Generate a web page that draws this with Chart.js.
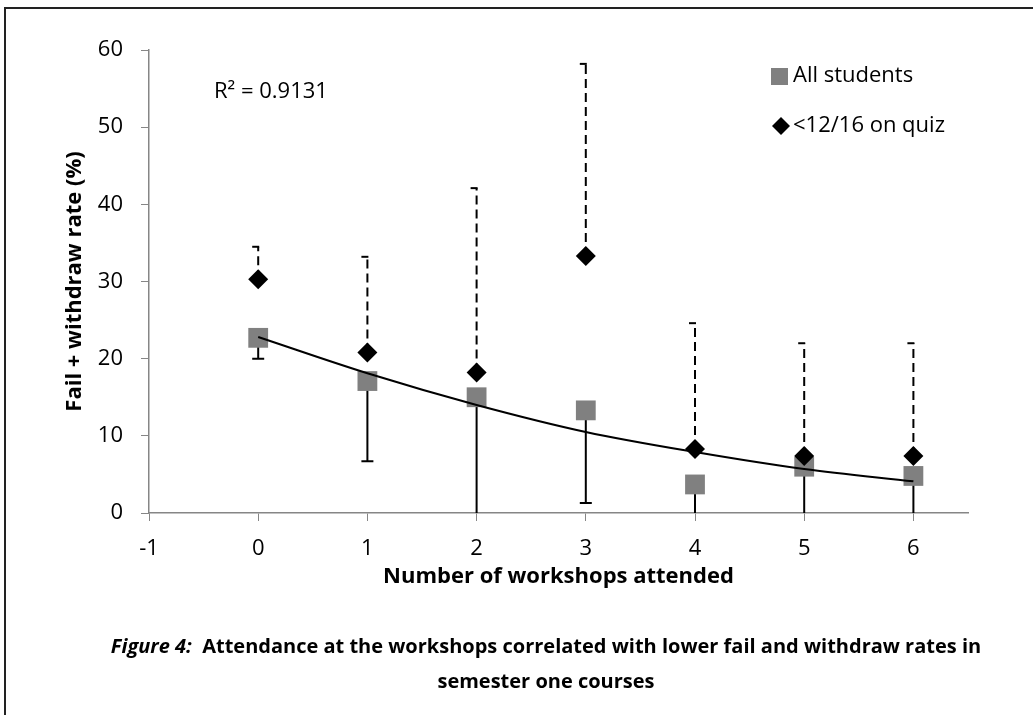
<!DOCTYPE html>
<html>
<head>
<meta charset="utf-8">
<script src="https://cdn.jsdelivr.net/npm/chart.js@4.4.1/dist/chart.umd.min.js"></script>
<style>
  html, body { margin: 0; padding: 0; background: #fff; }
  #wrap { position: relative; width: 1033px; height: 715px; overflow: hidden; font-family: "Open Sans", sans-serif; }
  #frame { position: absolute; left: 4px; top: 7px; width: 1100px; height: 800px; border: 2px solid #222; box-sizing: border-box; }
  #chart { position: absolute; left: 0; top: 0; }
  .caption { position: absolute; left: 0; top: 628px; width: 1092px; text-align: center; font-weight: bold; font-size: 20px; line-height: 35px; color: #000; }
</style>
</head>
<body>
<div id="wrap">
  <div id="frame"></div>
  <canvas id="chart" width="1033" height="715"></canvas>
  <div class="caption"><i>Figure 4:</i>&nbsp; Attendance at the workshops correlated with lower fail and withdraw rates in<br>semester one courses</div>
</div>
<script>
// values
const workshops = [0, 1, 2, 3, 4, 5, 6];
const allStudents = [22.7, 17.1, 15.0, 13.3, 3.7, 6.0, 4.8];
const allStudentsLower = [20.0, 6.7, 0, 1.3, 0, 0, 0];
const quizLow = [30.3, 20.8, 18.2, 33.3, 8.3, 7.4, 7.4];
const quizLowUpper = [34.5, 33.2, 42.1, 58.2, 24.6, 22.0, 22.0];
const trendFit = [22.8, 18.1, 14.0, 10.5, 7.9, 5.7, 4.1];
const xTicks = [-1, 0, 1, 2, 3, 4, 5, 6];
const yTicks = [0, 10, 20, 30, 40, 50, 60];
const r2Label = 'R² = 0.9131';

const FONT = 'Open Sans';

function pts(ys) {
    return workshops.map((w, i) => ({ x: w, y: ys[i] }));
}

const errorBars = {
    id: 'errorBars',
    beforeDatasetsDraw(chart) {
        const { ctx, chartArea, scales: { x, y } } = chart;
        ctx.save();
        ctx.beginPath();
        ctx.rect(chartArea.left, 0, chartArea.width, chartArea.bottom);
        ctx.clip();
        ctx.strokeStyle = '#000';
        ctx.lineWidth = 2;
        workshops.forEach((w, i) => {
            const px = x.getPixelForValue(w);
            // solid bars, minus only
            ctx.setLineDash([]);
            const y0 = y.getPixelForValue(allStudents[i]);
            const y1 = y.getPixelForValue(allStudentsLower[i]);
            ctx.beginPath();
            ctx.moveTo(px, y0);
            ctx.lineTo(px, y1);
            if (allStudentsLower[i] > 0) {
                ctx.moveTo(px - 6, y1);
                ctx.lineTo(px + 6, y1);
            }
            ctx.stroke();
            // dashed bars, plus only
            const q0 = y.getPixelForValue(quizLow[i]);
            const q1 = y.getPixelForValue(quizLowUpper[i]);
            ctx.setLineDash([9, 5]);
            ctx.beginPath();
            ctx.moveTo(px, q0);
            ctx.lineTo(px, q1);
            ctx.stroke();
            ctx.setLineDash([]);
            ctx.beginPath();
            ctx.moveTo(px - 6, q1);
            ctx.lineTo(px + 1, q1);
            ctx.stroke();
        });
        ctx.restore();
    }
};

const annotations = {
    id: 'annotations',
    afterDraw(chart) {
        const ctx = chart.ctx;
        ctx.save();
        ctx.fillStyle = '#000';
        ctx.font = '22px "' + FONT + '"';
        ctx.textBaseline = 'middle';
        ctx.textAlign = 'left';
        ctx.fillText(r2Label, 214, 92);

        // legend
        ctx.fillStyle = '#808080';
        ctx.fillRect(771, 68, 17, 17);
        ctx.fillStyle = '#000';
        ctx.fillText('All students', 793, 76);
        ctx.beginPath();
        ctx.moveTo(781, 117);
        ctx.lineTo(790, 126);
        ctx.lineTo(781, 135);
        ctx.lineTo(772, 126);
        ctx.closePath();
        ctx.fill();
        ctx.fillText('<12/16 on quiz', 793, 126);
        ctx.restore();
    }
};

new Chart(document.getElementById('chart'), {
    type: 'scatter',
    data: {
        datasets: [
            {
                label: 'Poly. (All students)',
                type: 'line',
                data: pts(trendFit),
                showLine: true,
                borderColor: '#000',
                borderWidth: 2,
                pointRadius: 0,
                tension: 0.4,
                cubicInterpolationMode: 'monotone',
                order: 0
            },
            {
                label: '<12/16 on quiz',
                data: pts(quizLow),
                pointStyle: 'rectRot',
                pointRadius: 10,
                backgroundColor: '#000',
                borderColor: '#000',
                borderWidth: 0,
                order: 1
            },
            {
                label: 'All students',
                data: pts(allStudents),
                pointStyle: 'rect',
                pointRadius: 14,
                backgroundColor: '#808080',
                borderColor: '#808080',
                borderWidth: 0,
                order: 2
            }
        ]
    },
    options: {
        responsive: false,
        animation: false,
        layout: { padding: { left: 58, top: 50, right: 65, bottom: 125 } },
        plugins: {
            legend: { display: false },
            tooltip: { enabled: false }
        },
        scales: {
            x: {
                type: 'linear',
                min: -1,
                max: 6.5,
                afterBuildTicks: s => { s.ticks = xTicks.map(v => ({ value: v })); },
                afterFit: s => { s.height = 77; },
                grid: { drawOnChartArea: false, drawTicks: true, tickLength: 8, color: '#868686' },
                border: { color: '#868686', width: 1.5 },
                ticks: { color: '#000', font: { family: FONT, size: 22 }, padding: 15, maxRotation: 0 },
                title: {
                    display: true,
                    text: 'Number of workshops attended',
                    color: '#000',
                    font: { family: FONT, size: 22, weight: 'bold' },
                    padding: { top: 0, bottom: 0 }
                }
            },
            y: {
                min: 0,
                max: 60,
                afterBuildTicks: s => { s.ticks = yTicks.map(v => ({ value: v })); },
                afterFit: s => { s.width = 91; },
                grid: { drawOnChartArea: false, drawTicks: true, tickLength: 8, color: '#868686' },
                border: { color: '#868686', width: 1.5 },
                ticks: { color: '#000', font: { family: FONT, size: 22 }, padding: 18 },
                title: {
                    display: true,
                    text: 'Fail + withdraw rate (%)',
                    color: '#000',
                    font: { family: FONT, size: 22, weight: 'bold' },
                    padding: { top: 4, bottom: 0 }
                }
            }
        }
    },
    plugins: [errorBars, annotations]
});
</script>
</body>
</html>
